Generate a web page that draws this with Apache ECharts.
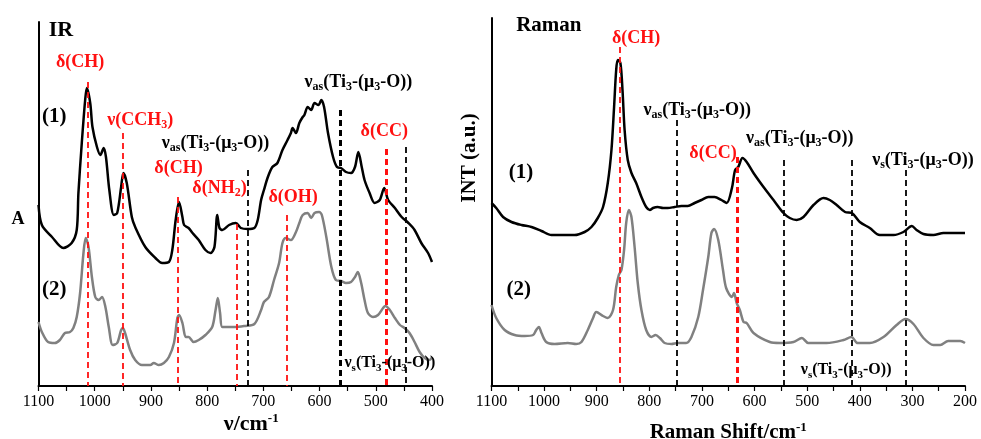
<!DOCTYPE html>
<html>
<head>
<meta charset="utf-8">
<script src="https://cdn.jsdelivr.net/npm/echarts@6/dist/echarts.min.js"></script>
<style>
  html, body { margin: 0; padding: 0; background: #fff; }
  #main { width: 981px; height: 439px; }
</style>
</head>
<body>
<div id="main"></div>
<script>
// ---- IR spectra (wavenumber cm-1 / absorbance a.u.) ----
const irWn1 = [1100,1094,1076,1056,1041,1032,1029,1023,1017,1014,1008,1004,996,990,984,980,974,966,960,953,949,943,934,928,910,892,880,868,862,856,850,844,841,833,826,815,803,794,787,782,778,773,761,749,740,728,716,710,704,699,692,684,675,666,657,651,648,642,636,630,627,621,615,609,602,597,592,585,576,569,562,553,544,537,531,525,520,511,502,493,485,478,466,454,442,431,419,407,400];
const irAbs1 = [1.81,1.61,1.49,1.38,1.43,1.56,1.93,2.43,2.86,2.98,2.83,2.59,2.39,2.31,2.38,2.29,1.96,1.71,1.73,1.99,2.13,2.03,1.69,1.59,1.39,1.28,1.23,1.24,1.36,1.66,1.84,1.69,1.61,1.58,1.53,1.46,1.36,1.33,1.39,1.71,1.58,1.56,1.61,1.63,1.58,1.57,1.58,1.66,1.86,1.96,2.09,2.19,2.23,2.36,2.46,2.53,2.58,2.53,2.63,2.69,2.71,2.79,2.76,2.83,2.81,2.86,2.79,2.53,2.29,2.19,2.18,2.14,2.13,2.19,2.34,2.19,2.06,1.93,1.83,1.86,1.98,1.86,1.78,1.69,1.63,1.56,1.43,1.33,1.24];
const irWn2 = [1100,1094,1083,1071,1062,1053,1044,1038,1032,1026,1020,1016,1011,1005,999,993,987,981,975,968,960,953,950,946,937,928,916,901,895,886,877,868,859,853,850,844,838,833,824,815,803,791,785,781,777,773,761,750,734,716,704,699,690,681,672,666,660,651,642,636,630,621,615,609,601,596,588,579,571,562,553,544,537,532,526,520,514,505,496,487,483,475,466,457,449,440,431,422,413,404,400];
const irAbs2 = [0.64,0.54,0.44,0.43,0.46,0.53,0.54,0.58,0.69,0.93,1.33,1.48,1.39,1.09,0.89,0.86,0.89,0.79,0.59,0.41,0.43,0.56,0.58,0.53,0.36,0.26,0.21,0.21,0.23,0.21,0.23,0.29,0.43,0.68,0.71,0.63,0.49,0.49,0.44,0.46,0.51,0.59,0.76,0.88,0.73,0.59,0.59,0.59,0.60,0.62,0.76,0.84,0.89,1.06,1.23,1.43,1.48,1.46,1.54,1.63,1.71,1.73,1.68,1.73,1.74,1.71,1.49,1.19,1.06,1.05,1.03,1.04,1.09,1.14,1.03,0.86,0.73,0.69,0.71,0.78,0.80,0.76,0.68,0.61,0.58,0.53,0.44,0.34,0.28,0.26,0.29];

// ---- Raman spectra (shift cm-1 / intensity a.u.) ----
const ramWn1 = [1100,1091,1078,1062,1043,1024,1005,986,967,942,923,910,898,888,879,872,867,863,860,855,851,847,841,834,825,815,806,799,793,784,774,765,752,739,727,714,701,688,676,663,653,643,637,631,623,615,602,583,564,545,533,520,507,488,469,457,444,428,415,400,381,362,336,317,301,292,279,260,241,222,200];
const ramInt1 = [1.83,1.78,1.69,1.64,1.61,1.59,1.55,1.51,1.51,1.51,1.54,1.59,1.68,1.79,2.03,2.36,2.79,3.16,3.26,3.23,2.96,2.56,2.26,2.13,2.03,1.89,1.79,1.76,1.78,1.79,1.78,1.78,1.79,1.80,1.80,1.83,1.86,1.89,1.89,1.86,1.83,1.98,2.16,2.19,2.28,2.24,2.13,1.99,1.86,1.73,1.68,1.66,1.69,1.81,1.88,1.86,1.81,1.74,1.73,1.64,1.58,1.51,1.51,1.54,1.60,1.56,1.52,1.51,1.53,1.53,1.53];
const ramWn2 = [1100,1091,1075,1056,1037,1021,1015,1010,1005,996,980,955,939,929,917,907,901,888,879,869,863,858,853,848,844,839,834,828,822,815,806,796,788,780,771,758,746,730,720,707,698,688,682,677,669,660,654,643,639,634,628,621,615,602,571,552,526,510,498,463,431,416,404,381,355,330,313,298,279,260,247,232,209,200];
const ramInt2 = [0.81,0.68,0.56,0.51,0.50,0.51,0.56,0.59,0.53,0.44,0.42,0.43,0.42,0.44,0.56,0.68,0.74,0.70,0.68,0.76,0.99,1.11,1.16,1.36,1.63,1.76,1.69,1.39,1.03,0.76,0.56,0.49,0.51,0.48,0.43,0.42,0.43,0.43,0.49,0.69,0.96,1.29,1.53,1.57,1.46,1.16,0.98,0.89,0.93,0.83,0.76,0.64,0.63,0.53,0.44,0.43,0.44,0.48,0.43,0.43,0.46,0.49,0.43,0.43,0.49,0.61,0.67,0.62,0.48,0.41,0.41,0.45,0.45,0.43];

// ---- band assignments (org = organic ligand, ti = Ti3-(mu3-O) core) ----
const irBandWn = [1013, 950, 853, 748, 728, 658, 563, 482, 447];
const irBandTop = [3.04, 2.53, 1.89, 1.62, 2.16, 1.71, 2.76, 2.37, 2.39];
const irBandKind = ['org','org','org','org','ti','org','ti','org','ti'];

const irLabelText = ['δ(CH)', 'ν(CCH{s|3})', 'δ(CH)', 'δ(NH{s|2})', 'ν{s|as}(Ti{s|3}-(μ{s|3}-O))', 'δ(OH)', 'ν{s|as}(Ti{s|3}-(μ{s|3}-O))', 'δ(CC)', 'ν{s|s}(Ti{s|3}-(μ{s|3}-O))'];
const irLabelWn = [1026, 919, 851, 778, 785, 647, 531, 485, 475];
const irLabelY = [3.24, 2.66, 2.18, 1.98, 2.43, 1.89, 3.04, 2.55, 0.23];
const irLabelKind = ['org','org','org','org','ti','org','ti','org','ti'];

const ramBandWn = [856, 747, 633, 544, 415, 313];
const ramBandTop = [3.39, 2.66, 2.29, 2.26, 2.26, 2.16];
const ramBandKind = ['org','ti','org','ti','ti','ti'];

const ramLabelText = ['δ(CH)', 'ν{s|as}(Ti{s|3}-(μ{s|3}-O))', 'δ(CC)', 'ν{s|as}(Ti{s|3}-(μ{s|3}-O))', 'ν{s|s}(Ti{s|3}-(μ{s|3}-O))', 'ν{s|s}(Ti{s|3}-(μ{s|3}-O))'];
const ramLabelWn = [825, 709, 679, 514, 280, 426];
const ramLabelY = [3.48, 2.76, 2.33, 2.48, 2.26, 0.16];
const ramLabelKind = ['org','ti','org','ti','ti','ti'];

// ---- styling ----
const SERIF = 'Liberation Serif';
const RED = '#ff1010';
const INK = '#000';
const heavyBands = [563, 482, 633];   // drawn with a bolder dash

function colorOf(kind) { return kind === 'org' ? RED : INK; }

function zip(xs, ys) { return xs.map((x, i) => [x, ys[i]]); }

function bandLines(wns, tops, kinds) {
  return wns.map((w, i) => [
    { coord: [w, tops[i]], lineStyle: {
        color: colorOf(kinds[i]),
        width: heavyBands.includes(w) ? 3 : 1.8,
        type: [6, 4]
      } },
    { coord: [w, 0] }
  ]);
}

// labels sitting at the foot of a panel are set a little smaller
function textPoints(texts, wns, ys, kinds) {
  return texts.map((t, i) => {
    const color = colorOf(kinds[i]);
    const foot = ys[i] < 0.5;
    return {
      coord: [wns[i], ys[i]],
      label: {
        formatter: t, color: color, fontSize: foot ? 16 : 18,
        rich: { s: { fontFamily: SERIF, fontWeight: 'bold', fontSize: foot ? 11 : 12, color: color, verticalAlign: 'bottom' } }
      }
    };
  });
}

function plainPoint(text, x, y, size) {
  return {
    coord: [x, y],
    label: { formatter: text, color: INK, fontSize: size, fontWeight: 'bold' }
  };
}

const markText = {
  symbol: 'rect', symbolSize: 0, silent: true,
  label: { show: true, position: 'inside', fontFamily: SERIF, fontWeight: 'bold', fontSize: 18, lineHeight: 22 }
};

const xAxisBase = {
  type: 'value', inverse: true, interval: 50,
  axisLine: { lineStyle: { color: INK, width: 2 } },
  axisTick: { show: true, length: 5, lineStyle: { color: INK, width: 1.2 } },
  axisLabel: { color: INK, fontFamily: SERIF, fontSize: 16, margin: 8,
    formatter: v => (v % 100 === 0 ? String(v) : '') },
  splitLine: { show: false },
  nameLocation: 'middle',
  nameMoveOverlap: false
};

function axisNameStyle(size, padding) {
  return { color: INK, fontFamily: SERIF, fontWeight: 'bold', fontSize: size, lineHeight: 24, padding: padding,
    rich: { sup: { fontFamily: SERIF, fontWeight: 'bold', fontSize: 13, color: INK, verticalAlign: 'top' } } };
}

const yAxisBase = {
  type: 'value', min: 0,
  axisLine: { show: true, lineStyle: { color: INK, width: 2 } },
  axisTick: { show: false }, axisLabel: { show: false }, splitLine: { show: false },
  nameLocation: 'middle', nameMoveOverlap: false
};

const chart = echarts.init(document.getElementById('main'));

chart.setOption({
  backgroundColor: '#fff',
  animation: false,
  grid: [
    { left: 38.5, right: 549, top: 22, bottom: 53, outerBoundsMode: 'none' },
    { left: 491.5, right: 16, top: 18, bottom: 53, outerBoundsMode: 'none' }
  ],
  xAxis: [
    Object.assign({}, xAxisBase, { gridIndex: 0, min: 400, max: 1100, name: 'ν/cm{sup|-1}', nameGap: 26,
      nameTextStyle: axisNameStyle(22, [0, 0, 0, 32]) }),
    Object.assign({}, xAxisBase, { gridIndex: 1, min: 200, max: 1100, name: 'Raman Shift/cm{sup|-1}', nameGap: 35,
      nameTextStyle: axisNameStyle(21, 0) })
  ],
  yAxis: [
    Object.assign({}, yAxisBase, { gridIndex: 0, max: 3.64, name: 'A', nameRotate: 0, nameGap: 14,
      nameTextStyle: { color: INK, fontFamily: SERIF, fontWeight: 'bold', fontSize: 18, verticalAlign: 'top', padding: [6, 0, 0, 0] } }),
    Object.assign({}, yAxisBase, { gridIndex: 1, max: 3.68, name: 'INT (a.u.)', nameRotate: 90, nameGap: 11,
      nameTextStyle: { color: INK, fontFamily: SERIF, fontWeight: 'bold', fontSize: 21, padding: [0, 0, 0, 88] } })
  ],
  series: [
    {
      name: 'IR (1)', type: 'line', xAxisIndex: 0, yAxisIndex: 0,
      data: zip(irWn1, irAbs1), showSymbol: false, smooth: 0.3,
      lineStyle: { color: INK, width: 2.5 }, z: 3,
      markPoint: Object.assign({}, markText, {
        data: textPoints(irLabelText, irLabelWn, irLabelY, irLabelKind).concat([
          plainPoint('IR', 1060, 3.56, 22),
          plainPoint('(1)', 1072, 2.69, 21),
          plainPoint('(2)', 1072, 0.96, 21)
        ])
      })
    },
    {
      name: 'IR (2)', type: 'line', xAxisIndex: 0, yAxisIndex: 0,
      data: zip(irWn2, irAbs2), showSymbol: false, smooth: 0.3,
      lineStyle: { color: '#808080', width: 2.5 }, z: 2,
      markLine: { symbol: ['none', 'none'], silent: true, label: { show: false },
        data: bandLines(irBandWn, irBandTop, irBandKind) }
    },
    {
      name: 'Raman (1)', type: 'line', xAxisIndex: 1, yAxisIndex: 1,
      data: zip(ramWn1, ramInt1), showSymbol: false, smooth: 0.3,
      lineStyle: { color: INK, width: 2.5 }, z: 3,
      markPoint: Object.assign({}, markText, {
        data: textPoints(ramLabelText, ramLabelWn, ramLabelY, ramLabelKind).concat([
          plainPoint('Raman', 991, 3.60, 21),
          plainPoint('(1)', 1044, 2.13, 21),
          plainPoint('(2)', 1048, 0.96, 21)
        ])
      })
    },
    {
      name: 'Raman (2)', type: 'line', xAxisIndex: 1, yAxisIndex: 1,
      data: zip(ramWn2, ramInt2), showSymbol: false, smooth: 0.3,
      lineStyle: { color: '#808080', width: 2.5 }, z: 2,
      markLine: { symbol: ['none', 'none'], silent: true, label: { show: false },
        data: bandLines(ramBandWn, ramBandTop, ramBandKind) }
    }
  ]
});
</script>
</body>
</html>
